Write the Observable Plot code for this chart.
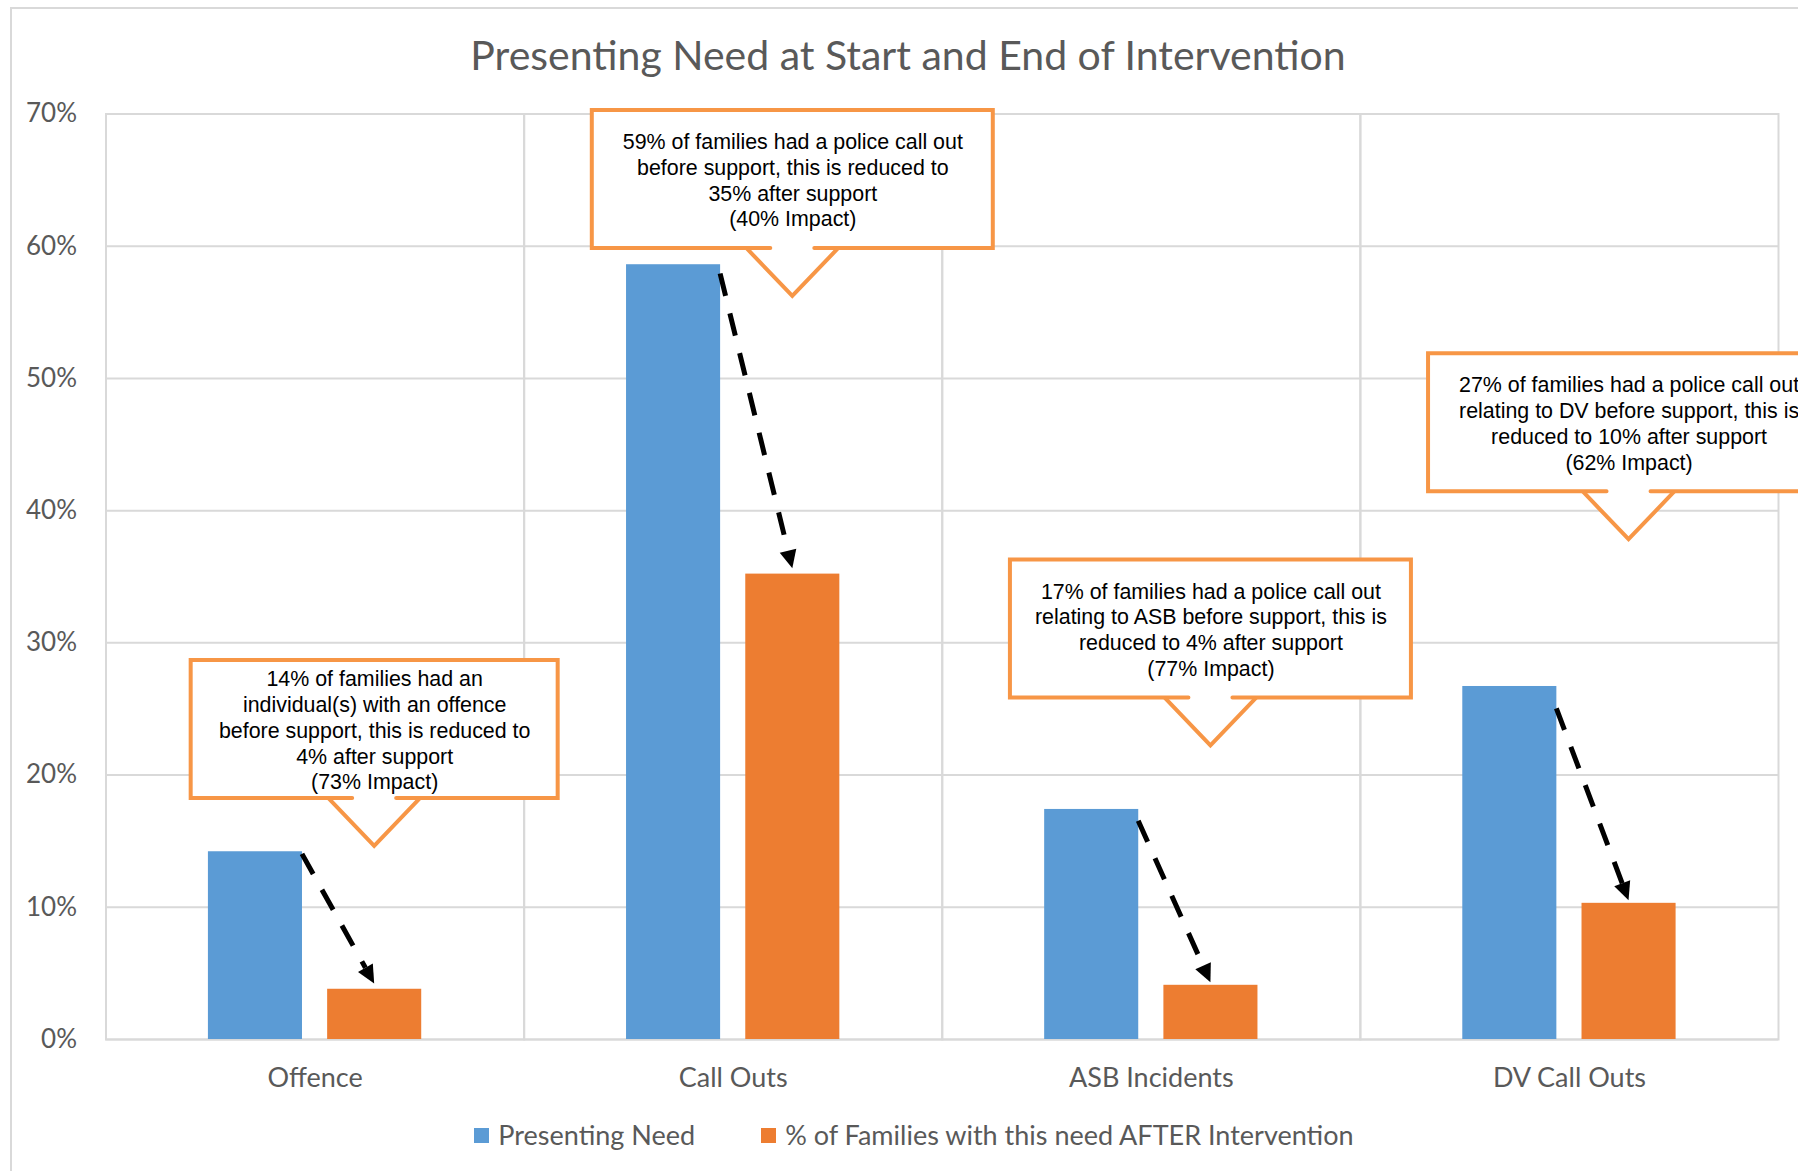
<!DOCTYPE html>
<html>
<head>
<meta charset="utf-8">
<script src="https://cdn.jsdelivr.net/npm/d3@7"></script>
<script src="https://cdn.jsdelivr.net/npm/@observablehq/plot@0.6"></script>
<style>
  html, body { margin: 0; padding: 0; background: #fff; overflow: hidden; }
  #wrap { position: relative; width: 1798px; height: 1171px; overflow: hidden; }
  #border { position: absolute; left: 10px; top: 7px; width: 1900px; height: 1300px; border: 2px solid #d9d9d9; }
  #title { position: absolute; left: 0; width: 1816px; top: 31px; text-align: center; font-family: Lato, sans-serif; font-size: 41px; line-height: 48px; color: #595959; white-space: nowrap; }
  #chart { position: absolute; left: 0; top: 90px; }
  #legend { position: absolute; left: 0; width: 1828px; top: 1117px; display: flex; justify-content: center; align-items: center; font-family: Lato, sans-serif; font-size: 27px; line-height: 36px; color: #595959; }
  .item { display: flex; align-items: center; }
  .item + .item { margin-left: 66px; }
  .sw { width: 15px; height: 15px; margin-right: 9px; }
</style>
</head>
<body>
<div id="wrap">
  <div id="border"></div>
  <div id="title"></div>
  <div id="chart"></div>
  <div id="legend"></div>
</div>
<script>
// ---- data ----
const titleText = "Presenting Need at Start and End of Intervention";
const categories = ["Offence", "Call Outs", "ASB Incidents", "DV Call Outs"];
const seriesNames = ["Presenting Need", "% of Families with this need AFTER Intervention"];
const presentingNeed = [14.2, 58.6, 17.4, 26.7];
const afterIntervention = [3.8, 35.2, 4.1, 10.3];
const yTicks = [0, 10, 20, 30, 40, 50, 60, 70];
// annotation arrows (start / end, in %)
const arrowFrom = [14.0, 57.9, 16.5, 25.0];
const arrowTo = [4.2, 35.6, 4.3, 10.5];
// callout pointer tips (in %)
const calloutAt = [14.6, 56.2, 22.2, 37.8];
const calloutText = [
  "14% of families had an\nindividual(s) with an offence\nbefore support, this is reduced to\n4% after support\n(73% Impact)",
  "59% of families had a police call out\nbefore support, this is reduced to\n35% after support\n(40% Impact)",
  "17% of families had a police call out\nrelating to ASB before support, this is\nreduced to 4% after support\n(77% Impact)",
  "27% of families had a police call out\nrelating to DV before support, this is\nreduced to 10% after support\n(62% Impact)"
];

// ---- styles ----
const colors = ["#5B9BD5", "#ED7D31"];
const GRID = "#d9d9d9";
const TEXT = "#595959";
const CALLOUT_LINE = "#F79646";
const BOX = { wide: 401, narrow: 367, h: 138, ptrH: 48, ptrHalf: 46, gapHalf: 22 };
const boxWidth = c => c === "Offence" ? BOX.narrow : BOX.wide;

// ---- tables ----
const rows = categories.flatMap((c, i) => [
  { category: c, series: seriesNames[0], value: presentingNeed[i] },
  { category: c, series: seriesNames[1], value: afterIntervention[i] }
]);
const arrows = categories.map((c, i) => ({ category: c, from: seriesNames[0], to: seriesNames[1], y1: arrowFrom[i], y2: arrowTo[i] }));
const callouts = categories.map((c, i) => ({ category: c, series: seriesNames[1], y: calloutAt[i], text: calloutText[i] }));

function drawArrows(index, scales, values) {
  const bw = scales.x.bandwidth();
  const g = d3.create("svg:g");
  for (const i of index) {
    const x1 = values.x1[i] + bw, y1 = values.y1[i];
    const x2 = values.x2[i] + bw / 2, y2 = values.y2[i];
    const dx = x2 - x1, dy = y2 - y1, len = Math.hypot(dx, dy);
    const ux = dx / len, uy = dy / len;
    const head = 18, half = 8.5;
    const bx = x2 - ux * head, by = y2 - uy * head;
    g.append("line").attr("x1", x1).attr("y1", y1).attr("x2", bx).attr("y2", by)
      .attr("stroke", "#000").attr("stroke-width", 5).attr("stroke-dasharray", "23,18");
    g.append("path")
      .attr("d", `M${x2},${y2}L${bx - uy * half},${by + ux * half}L${bx + uy * half},${by - ux * half}Z`)
      .attr("fill", "#000");
  }
  return g.node();
}

function drawCallouts(index, scales, values) {
  const bw = scales.x.bandwidth();
  const g = d3.create("svg:g");
  for (const i of index) {
    const ax = values.x[i] + bw / 2, ay = values.y[i];
    const w = boxWidth(callouts[i].category);
    const B = ay - BOX.ptrH, T = B - BOX.h, L = ax - w / 2, R = ax + w / 2;
    g.append("path")
      .attr("d", `M${ax - BOX.ptrHalf},${B}L${ax},${ay}L${ax + BOX.ptrHalf},${B}`)
      .attr("fill", "#fff").attr("stroke", CALLOUT_LINE).attr("stroke-width", 4)
      .attr("stroke-linecap", "round");
    g.append("path")
      .attr("d", `M${ax - BOX.gapHalf},${B}H${L}V${T}H${R}V${B}H${ax + BOX.gapHalf}`)
      .attr("fill", "#fff").attr("stroke", CALLOUT_LINE).attr("stroke-width", 4)
      .attr("stroke-linecap", "round").attr("stroke-linejoin", "miter");
  }
  return g.node();
}

const chart = Plot.plot({
  width: 1798,
  height: 1010,
  marginTop: 23.5,
  marginBottom: 61,
  marginLeft: 105.5,
  marginRight: 20,
  style: { fontFamily: "Lato, sans-serif", background: "transparent" },
  fx: { domain: categories, padding: 0, round: false, label: null },
  x: { domain: seriesNames, paddingInner: 0.211, paddingOuter: 0.859, round: false, axis: null },
  y: { domain: [0, 70], label: null },
  color: { domain: seriesNames, range: colors },
  marks: [
    Plot.gridY({ ticks: yTicks, stroke: GRID, strokeOpacity: 1, strokeWidth: 2 }),
    Plot.frame({ stroke: GRID, strokeWidth: 2 }),
    Plot.barY(rows, { fx: "category", x: "series", y: "value", fill: "series" }),
    Plot.axisY({ ticks: yTicks, tickSize: 0, tickPadding: 29, tickFormat: d => d + "%", fontSize: 26, color: TEXT, label: null }),
    Plot.axisFx({ anchor: "bottom", tickSize: 0, tickPadding: 28, fontSize: 27, color: TEXT, label: null }),
    Plot.link(arrows, { fx: "category", x1: "from", x2: "to", y1: "y1", y2: "y2", render: drawArrows }),
    Plot.dot(callouts, { fx: "category", x: "series", y: "y", render: drawCallouts }),
    Plot.text(callouts, {
      fx: "category", x: "series", y: "y", text: "text",
      dy: -(BOX.ptrH + BOX.h / 2), lineAnchor: "middle", lineHeight: 25.8 / 21.4,
      fontSize: 21.4, fontFamily: "Liberation Sans, Arial, sans-serif", fill: "#000"
    })
  ]
});
document.getElementById("chart").appendChild(chart);
document.getElementById("title").textContent = titleText;

const legend = document.getElementById("legend");
seriesNames.forEach((name, i) => {
  const item = document.createElement("div");
  item.className = "item";
  const sw = document.createElement("div");
  sw.className = "sw";
  sw.style.background = colors[i];
  const label = document.createElement("span");
  label.textContent = name;
  item.appendChild(sw);
  item.appendChild(label);
  legend.appendChild(item);
});
</script>
</body>
</html>
